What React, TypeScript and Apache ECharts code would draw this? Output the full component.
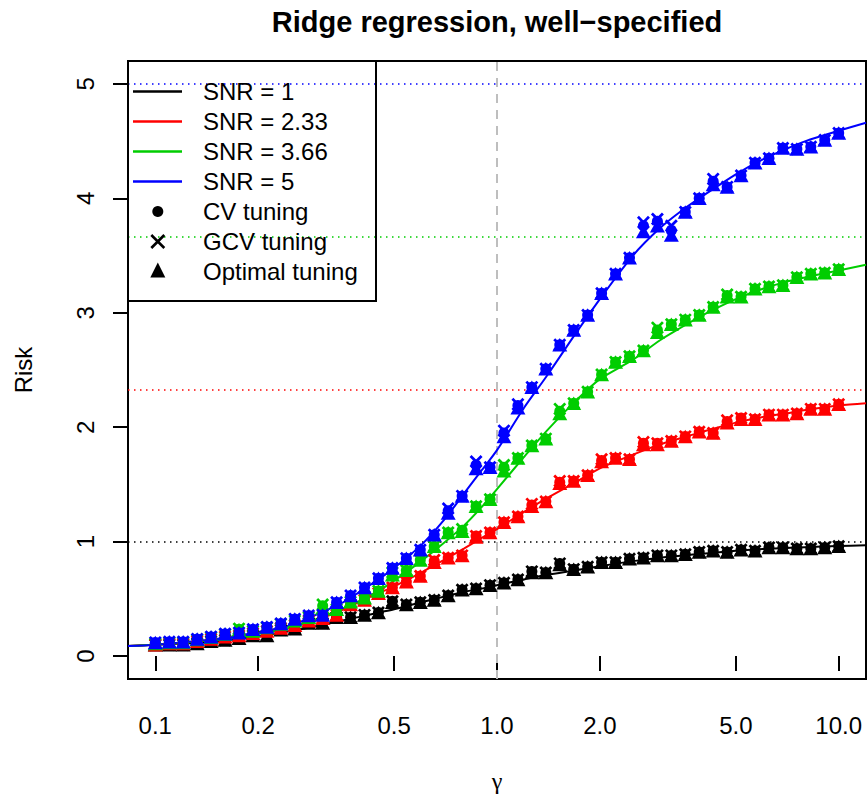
import React, { useEffect, useRef } from "react";
import * as echarts from "echarts";

// gamma values of the simulated points (log spaced)
const GAMMA = [
  0.1, 0.1099, 0.1207, 0.1326, 0.1456, 0.16, 0.1758, 0.1931, 0.2121, 0.233,
  0.256, 0.2812, 0.3089, 0.3393, 0.3728, 0.4095, 0.4498, 0.4942, 0.5429, 0.5964,
  0.6551, 0.7197, 0.7906, 0.8685, 0.9541, 1.0481, 1.1514, 1.2649, 1.3895, 1.5264,
  1.6768, 1.8421, 2.0236, 2.223, 2.4421, 2.6827, 2.9471, 3.2375, 3.5565, 3.9069,
  4.2919, 4.7149, 5.1795, 5.6899, 6.2506, 6.8665, 7.5431, 8.2864, 9.103, 10,
];

// Optimal tuning
const OPT_SNR1 = [
  0.1, 0.1, 0.1, 0.11, 0.13, 0.14, 0.155, 0.18, 0.18, 0.23,
  0.24, 0.29, 0.29, 0.34, 0.34, 0.36, 0.38, 0.47, 0.45, 0.47,
  0.49, 0.53, 0.58, 0.59, 0.62, 0.64, 0.67, 0.73, 0.73, 0.8,
  0.76, 0.78, 0.82, 0.82, 0.85, 0.86, 0.88, 0.88, 0.89, 0.91,
  0.92, 0.91, 0.93, 0.92, 0.95, 0.95, 0.94, 0.94, 0.95, 0.96,
];
const OPT_SNR2 = [
  0.1, 0.11, 0.11, 0.13, 0.15, 0.17, 0.18, 0.2, 0.22, 0.245,
  0.27, 0.31, 0.33, 0.36, 0.45, 0.49, 0.55, 0.6, 0.65, 0.7,
  0.82, 0.86, 0.88, 1.04, 1.08, 1.17, 1.22, 1.31, 1.35, 1.51,
  1.53, 1.58, 1.7, 1.73, 1.72, 1.85, 1.85, 1.88, 1.92, 1.96,
  1.95, 2.04, 2.07, 2.07, 2.11, 2.11, 2.12, 2.16, 2.16, 2.2,
];
const OPT_SNR3 = [
  0.11, 0.12, 0.12, 0.145, 0.165, 0.19, 0.23, 0.22, 0.25, 0.28,
  0.31, 0.34, 0.42, 0.41, 0.475, 0.51, 0.57, 0.71, 0.75, 0.84,
  0.96, 1.08, 1.09, 1.31, 1.37, 1.62, 1.73, 1.84, 1.9, 2.12,
  2.21, 2.31, 2.46, 2.57, 2.62, 2.67, 2.83, 2.9, 2.94, 2.98,
  3.05, 3.14, 3.14, 3.21, 3.23, 3.24, 3.31, 3.34, 3.35, 3.38,
];
const OPT_SNR4 = [
  0.12, 0.125, 0.125, 0.15, 0.17, 0.195, 0.205, 0.235, 0.255, 0.285,
  0.325, 0.355, 0.36, 0.47, 0.53, 0.6, 0.68, 0.77, 0.855, 0.93,
  1.06, 1.25, 1.4, 1.64, 1.65, 1.92, 2.17, 2.35, 2.51, 2.72,
  2.85, 2.98, 3.17, 3.34, 3.48, 3.71, 3.76, 3.68, 3.88, 4.0,
  4.12, 4.1, 4.2, 4.31, 4.35, 4.44, 4.43, 4.45, 4.51, 4.57,
];

// CV tuning
const CV_SNR1 = [
  0.1, 0.1, 0.1, 0.11, 0.13, 0.14, 0.155, 0.18, 0.18, 0.23,
  0.24, 0.29, 0.29, 0.34, 0.34, 0.36, 0.38, 0.48, 0.45, 0.47,
  0.49, 0.53, 0.58, 0.59, 0.62, 0.64, 0.67, 0.74, 0.73, 0.81,
  0.76, 0.78, 0.82, 0.82, 0.85, 0.86, 0.88, 0.88, 0.89, 0.91,
  0.92, 0.91, 0.93, 0.92, 0.95, 0.95, 0.94, 0.94, 0.95, 0.96,
];
const CV_SNR2 = [
  0.1, 0.11, 0.11, 0.13, 0.15, 0.17, 0.18, 0.2, 0.22, 0.245,
  0.27, 0.31, 0.33, 0.36, 0.45, 0.49, 0.55, 0.6, 0.65, 0.7,
  0.83, 0.86, 0.88, 1.05, 1.08, 1.17, 1.22, 1.32, 1.35, 1.52,
  1.53, 1.58, 1.71, 1.73, 1.72, 1.86, 1.86, 1.88, 1.92, 1.96,
  1.95, 2.05, 2.08, 2.07, 2.11, 2.11, 2.12, 2.16, 2.16, 2.2,
];
const CV_SNR3 = [
  0.11, 0.12, 0.12, 0.145, 0.165, 0.19, 0.235, 0.22, 0.25, 0.28,
  0.31, 0.34, 0.44, 0.41, 0.475, 0.51, 0.57, 0.72, 0.75, 0.84,
  0.96, 1.08, 1.1, 1.31, 1.37, 1.65, 1.73, 1.84, 1.9, 2.14,
  2.21, 2.31, 2.46, 2.57, 2.62, 2.67, 2.85, 2.9, 2.94, 2.98,
  3.05, 3.15, 3.14, 3.21, 3.23, 3.24, 3.31, 3.34, 3.35, 3.38,
];
const CV_SNR4 = [
  0.12, 0.125, 0.125, 0.15, 0.17, 0.195, 0.205, 0.235, 0.255, 0.285,
  0.325, 0.355, 0.36, 0.47, 0.53, 0.6, 0.68, 0.77, 0.855, 0.93,
  1.06, 1.27, 1.4, 1.67, 1.65, 1.95, 2.19, 2.35, 2.51, 2.72,
  2.85, 2.98, 3.17, 3.34, 3.48, 3.76, 3.8, 3.72, 3.88, 4.0,
  4.15, 4.1, 4.2, 4.31, 4.35, 4.44, 4.43, 4.45, 4.51, 4.57,
];

// GCV tuning
const GCV_SNR1 = [
  0.1, 0.1, 0.1, 0.11, 0.13, 0.14, 0.155, 0.18, 0.18, 0.23,
  0.24, 0.29, 0.29, 0.34, 0.34, 0.36, 0.38, 0.48, 0.45, 0.47,
  0.49, 0.53, 0.58, 0.59, 0.62, 0.64, 0.67, 0.74, 0.73, 0.81,
  0.76, 0.78, 0.82, 0.82, 0.85, 0.86, 0.88, 0.88, 0.89, 0.91,
  0.92, 0.91, 0.93, 0.92, 0.95, 0.95, 0.94, 0.94, 0.95, 0.96,
];
const GCV_SNR2 = [
  0.1, 0.11, 0.11, 0.13, 0.15, 0.17, 0.18, 0.2, 0.22, 0.245,
  0.27, 0.31, 0.33, 0.36, 0.45, 0.49, 0.55, 0.6, 0.65, 0.7,
  0.84, 0.86, 0.88, 1.05, 1.08, 1.17, 1.22, 1.33, 1.35, 1.53,
  1.53, 1.58, 1.72, 1.73, 1.72, 1.87, 1.86, 1.88, 1.92, 1.96,
  1.95, 2.06, 2.08, 2.07, 2.11, 2.11, 2.12, 2.16, 2.16, 2.2,
];
const GCV_SNR3 = [
  0.11, 0.12, 0.12, 0.145, 0.165, 0.19, 0.24, 0.22, 0.25, 0.28,
  0.31, 0.34, 0.45, 0.41, 0.475, 0.51, 0.57, 0.73, 0.75, 0.84,
  0.96, 1.08, 1.11, 1.31, 1.37, 1.67, 1.73, 1.84, 1.9, 2.16,
  2.21, 2.31, 2.46, 2.57, 2.62, 2.67, 2.87, 2.9, 2.94, 2.98,
  3.05, 3.16, 3.14, 3.21, 3.23, 3.24, 3.31, 3.34, 3.35, 3.38,
];
const GCV_SNR4 = [
  0.12, 0.125, 0.125, 0.15, 0.17, 0.195, 0.205, 0.235, 0.255, 0.285,
  0.325, 0.355, 0.36, 0.47, 0.53, 0.6, 0.68, 0.77, 0.855, 0.93,
  1.06, 1.29, 1.4, 1.7, 1.65, 1.97, 2.2, 2.35, 2.51, 2.72,
  2.85, 2.98, 3.17, 3.34, 3.48, 3.79, 3.82, 3.76, 3.88, 4.0,
  4.17, 4.1, 4.2, 4.31, 4.35, 4.44, 4.43, 4.45, 4.51, 4.57,
];

// Theoretical risk curves
const CURVE_GAMMA = [
  0.0832, 0.1, 0.13, 0.17, 0.2, 0.25, 0.3, 0.35, 0.4, 0.45, 0.5, 0.6, 0.7, 0.8,
  0.9, 1.0, 1.2, 1.4, 1.7, 2.0, 2.5, 3.0, 3.5, 4.0, 5.0, 6.0, 7.0, 8.0, 10.0, 12.02,
];
const CURVE_SNR1 = [
  0.088, 0.1, 0.115, 0.145, 0.175, 0.22, 0.265, 0.31, 0.345, 0.38, 0.41, 0.47, 0.52, 0.56,
  0.59, 0.62, 0.67, 0.71, 0.75, 0.785, 0.83, 0.86, 0.88, 0.895, 0.92, 0.935, 0.945, 0.952, 0.962, 0.968,
];
const CURVE_SNR2 = [
  0.088, 0.1, 0.125, 0.165, 0.205, 0.265, 0.32, 0.4, 0.48, 0.55, 0.61, 0.73, 0.84, 0.94,
  1.03, 1.11, 1.26, 1.38, 1.52, 1.64, 1.76, 1.85, 1.91, 1.96, 2.04, 2.09, 2.12, 2.15, 2.19, 2.21,
];
const CURVE_SNR3 = [
  0.088, 0.1, 0.125, 0.16, 0.195, 0.25, 0.33, 0.41, 0.49, 0.57, 0.66, 0.83, 0.99, 1.14,
  1.3, 1.46, 1.74, 1.97, 2.23, 2.42, 2.59, 2.76, 2.88, 2.98, 3.12, 3.21, 3.27, 3.31, 3.37, 3.42,
];
const CURVE_SNR4 = [
  0.088, 0.1, 0.13, 0.17, 0.21, 0.27, 0.37, 0.46, 0.57, 0.67, 0.77, 0.97, 1.19, 1.42,
  1.62, 1.8, 2.17, 2.45, 2.82, 3.12, 3.5, 3.74, 3.9, 4.02, 4.21, 4.34, 4.43, 4.5, 4.59, 4.66,
];

const SNR_LABELS = ["SNR = 1", "SNR = 2.33", "SNR = 3.66", "SNR = 5"];
const SNR_LEVELS = [1, 2.33, 3.66, 5];
const SNR_COLORS = ["#000000", "#ff0000", "#00cd00", "#0000ff"];
const TUNING_LABELS = ["CV tuning", "GCV tuning", "Optimal tuning"];

const X_TICKS = [0.1, 0.2, 0.5, 1, 2, 5, 10];
const X_TICK_LABELS = ["0.1", "0.2", "0.5", "1.0", "2.0", "5.0", "10.0"];
const Y_TICKS = [0, 1, 2, 3, 4, 5];

const TITLE = "Ridge regression, well\u2212specified";
const X_NAME = "\u03b3";
const Y_NAME = "Risk";

const FONT = "'Liberation Sans', Arial, Helvetica, sans-serif";
const SERIF = "'Liberation Serif', 'DejaVu Serif', serif";
const X_SYMBOL =
  "path://M0,1.5L1.5,0L5,3.5L8.5,0L10,1.5L6.5,5L10,8.5L8.5,10L5,6.5L1.5,10L0,8.5L3.5,5Z";

const CURVES = [CURVE_SNR1, CURVE_SNR2, CURVE_SNR3, CURVE_SNR4];
const CVS = [CV_SNR1, CV_SNR2, CV_SNR3, CV_SNR4];
const GCVS = [GCV_SNR1, GCV_SNR2, GCV_SNR3, GCV_SNR4];
const OPTS = [OPT_SNR1, OPT_SNR2, OPT_SNR3, OPT_SNR4];

function zip(xs: number[], ys: number[]) {
  return xs.map((x, i) => [x, ys[i]]);
}

export default function App() {
  const ref = useRef<HTMLDivElement>(null);

  useEffect(() => {
    document.body.style.margin = "0";
    if (!ref.current) return;
    const chart = echarts.init(ref.current, undefined, { renderer: "svg" });

    const series: any[] = [];
    SNR_LABELS.forEach((label, k) => {
      const color = SNR_COLORS[k];
      const markData: any[] = [
        { yAxis: SNR_LEVELS[k], lineStyle: { color, type: [1.5, 4.5], width: 1.5 } },
      ];
      if (k === 0) {
        markData.push({ xAxis: 1, lineStyle: { color: "#bebebe", type: [9, 7], width: 2 } });
      }
      series.push({
        name: label,
        type: "line",
        data: zip(CURVE_GAMMA, CURVES[k]),
        showSymbol: false,
        smooth: 0.3,
        lineStyle: { color, width: 2 },
        itemStyle: { color },
        z: 2,
        markLine: {
          silent: true,
          symbol: ["none", "none"],
          label: { show: false },
          z: 1,
          data: markData,
        },
      });
      series.push({
        name: TUNING_LABELS[0] + ", " + label,
        type: "scatter",
        data: zip(GAMMA, CVS[k]),
        symbol: "circle",
        symbolSize: 11,
        itemStyle: { color, opacity: 1 },
        z: 2,
      });
      series.push({
        name: TUNING_LABELS[1] + ", " + label,
        type: "scatter",
        data: zip(GAMMA, GCVS[k]),
        symbol: X_SYMBOL,
        symbolSize: 13,
        itemStyle: { color, opacity: 1 },
        z: 2,
      });
      series.push({
        name: TUNING_LABELS[2] + ", " + label,
        type: "scatter",
        data: zip(GAMMA, OPTS[k]),
        symbol: "triangle",
        symbolSize: [15, 13.5],
        itemStyle: { color, opacity: 1 },
        z: 2,
      });
    });

    // legend drawn with graphic elements (R style legend box)
    const lgX = 128;
    const lgY = 61;
    const rowY = [91.5, 121.5, 151.5, 181.5, 211.5, 241.5, 271];
    const symX = 157.8;
    const textX = 203;
    const legend: any[] = [
      {
        type: "rect",
        shape: { x: lgX, y: lgY, width: 248, height: 240 },
        style: { fill: "none", stroke: "#000", lineWidth: 2 },
        z: 100,
      },
    ];
    SNR_LABELS.forEach((label, k) => {
      legend.push({
        type: "line",
        shape: { x1: 133, y1: rowY[k], x2: 182, y2: rowY[k] },
        style: { stroke: SNR_COLORS[k], lineWidth: 2.5 },
        z: 100,
      });
      legend.push({
        type: "text",
        x: textX,
        y: rowY[k],
        style: {
          text: label,
          fill: "#000",
          font: `24px ${FONT}`,
          textAlign: "left",
          textVerticalAlign: "middle",
        },
        z: 100,
      });
    });
    legend.push({
      type: "circle",
      shape: { cx: symX, cy: rowY[4], r: 5.5 },
      style: { fill: "#000" },
      z: 100,
    });
    legend.push({
      type: "line",
      shape: { x1: symX - 6.5, y1: rowY[5] - 6.5, x2: symX + 6.5, y2: rowY[5] + 6.5 },
      style: { stroke: "#000", lineWidth: 2.6 },
      z: 100,
    });
    legend.push({
      type: "line",
      shape: { x1: symX - 6.5, y1: rowY[5] + 6.5, x2: symX + 6.5, y2: rowY[5] - 6.5 },
      style: { stroke: "#000", lineWidth: 2.6 },
      z: 100,
    });
    legend.push({
      type: "polygon",
      shape: {
        points: [
          [symX, rowY[6] - 8.5],
          [symX - 7.5, rowY[6] + 6.5],
          [symX + 7.5, rowY[6] + 6.5],
        ],
      },
      style: { fill: "#000" },
      z: 100,
    });
    TUNING_LABELS.forEach((label, j) => {
      legend.push({
        type: "text",
        x: textX,
        y: rowY[4 + j],
        style: {
          text: label,
          fill: "#000",
          font: `24px ${FONT}`,
          textAlign: "left",
          textVerticalAlign: "middle",
        },
        z: 100,
      });
    });

    const option: any = {
      animation: false,
      backgroundColor: "#ffffff",
      grid: {
        left: 128,
        right: 2,
        top: 61,
        bottom: 115,
        show: true,
        borderColor: "#000",
        borderWidth: 2,
        backgroundColor: "transparent",
      },
      xAxis: {
        type: "log",
        min: 0.0832,
        max: 12.02,
        axisLine: { show: false },
        splitLine: { show: false },
        axisTick: {
          show: true,
          length: 15,
          customValues: X_TICKS,
          lineStyle: { color: "#000", width: 2 },
        },
        axisLabel: {
          show: true,
          customValues: X_TICKS,
          margin: 34,
          color: "#000",
          fontSize: 24,
          fontFamily: FONT,
          formatter: (v: number) => {
            const i = X_TICKS.findIndex((t) => Math.abs(t - v) < 1e-6 * Math.max(1, t));
            return i >= 0 ? X_TICK_LABELS[i] : String(v);
          },
        },
      },
      yAxis: {
        type: "value",
        min: -0.2,
        max: 5.2,
        axisLine: { show: false },
        splitLine: { show: false },
        axisTick: {
          show: true,
          length: 15,
          customValues: Y_TICKS,
          lineStyle: { color: "#000", width: 2 },
        },
        axisLabel: {
          show: true,
          customValues: Y_TICKS,
          rotate: 90,
          margin: 31,
          color: "#000",
          fontSize: 24,
          fontFamily: FONT,
        },
      },
      graphic: [
        {
          type: "text",
          x: 497,
          y: 22,
          style: {
            text: TITLE,
            fill: "#000",
            font: `bold 29px ${FONT}`,
            textAlign: "center",
            textVerticalAlign: "middle",
          },
        },
        {
          type: "text",
          x: 497,
          y: 781,
          style: {
            text: X_NAME,
            fill: "#000",
            font: `24px ${SERIF}`,
            textAlign: "center",
            textVerticalAlign: "middle",
          },
        },
        {
          type: "text",
          x: 23,
          y: 370,
          rotation: Math.PI / 2,
          style: {
            text: Y_NAME,
            fill: "#000",
            font: `24px ${FONT}`,
            textAlign: "center",
            textVerticalAlign: "middle",
          },
        },
        ...legend,
      ],
      series,
    };

    chart.setOption(option);
    return () => chart.dispose();
  }, []);

  return <div ref={ref} style={{ width: 868, height: 794 }} />;
}
